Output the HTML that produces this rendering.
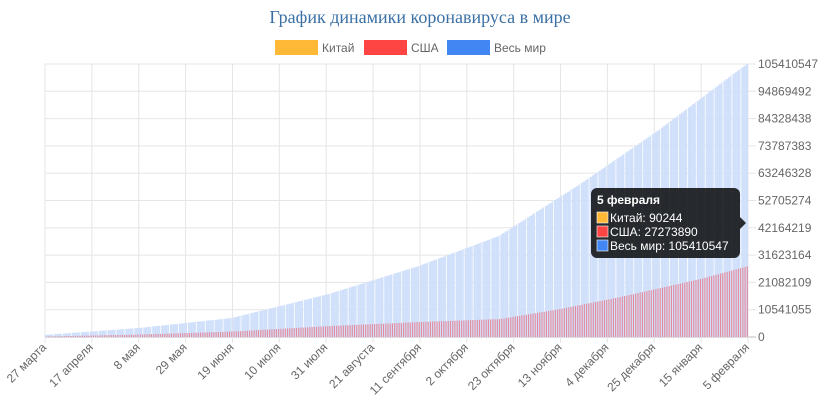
<!DOCTYPE html>
<html><head><meta charset="utf-8"><style>
body{margin:0;background:#fff;width:837px;height:413px;overflow:hidden}
svg{display:block;font-family:"Liberation Sans",sans-serif}
</style></head><body>
<svg id="s" width="837" height="413" xmlns="http://www.w3.org/2000/svg">
<text x="420" y="23" text-anchor="middle" font-family="Liberation Serif,serif" font-size="18" fill="#3a70a5">График динамики коронавируса в мире</text>
<rect x="275.5" y="40.5" width="42" height="14" fill="#ffb936" stroke="#ffb936"/>
<text x="322" y="52" font-size="12" fill="#666">Китай</text>
<rect x="364.5" y="40.5" width="42" height="14" fill="#ff4444" stroke="#ff4444"/>
<text x="411" y="52" font-size="12" fill="#666">США</text>
<rect x="447.5" y="40.5" width="42" height="14" fill="#4286f4" stroke="#4286f4"/>
<text x="494" y="52" font-size="12" fill="#666">Весь мир</text>
<g id="grid"></g><g id="bars"></g><g id="lab"></g>
<g>
<path d="M597,188 h137 a6,6 0 0 1 6,6 v23 l6,6 l-6,6 v23 a6,6 0 0 1 -6,6 h-137 a6,6 0 0 1 -6,-6 v-58 a6,6 0 0 1 6,-6z" fill="rgba(0,0,0,0.82)"/>
<text x="597" y="204" font-size="12" font-weight="bold" fill="#fff">5 февраля</text>
<rect x="597" y="212" width="11" height="11" fill="#ffb936" stroke="#fff" stroke-width="0.6"/>
<text x="610" y="222" font-size="12" fill="#fff">Китай: 90244</text>
<rect x="597" y="226" width="11" height="11" fill="#ff4444" stroke="#fff" stroke-width="0.6"/>
<text x="610" y="236" font-size="12" fill="#fff">США: 27273890</text>
<rect x="597" y="240" width="11" height="11" fill="#4286f4" stroke="#fff" stroke-width="0.6"/>
<text x="610" y="250" font-size="12" fill="#fff">Весь мир: 105410547</text>
</g>
</svg>
<script>
var ns="http://www.w3.org/2000/svg",L=45,R=748,T=64,B=337;
function el(p,t,a,txt){var e=document.createElementNS(ns,t);for(var k in a)e.setAttribute(k,a[k]);if(txt)e.textContent=txt;document.getElementById(p).appendChild(e);return e;}
var ticks=["0","10541055","21082109","31623164","42164219","52705274","63246328","73787383","84328438","94869492","105410547"];
for(var i=0;i<=10;i++){var y=B-(B-T)*i/10;el("grid","line",{x1:L,x2:R+8,y1:y,y2:y,stroke:i==0?"#bbb":"#e5e5e5"});el("lab","text",{x:758,y:y+4,"font-size":12,fill:"#666"},ticks[i]);}
var xl=["27 марта","17 апреля","8 мая","29 мая","19 июня","10 июля","31 июля","21 августа","11 сентября","2 октября","23 октября","13 ноября","4 декабря","25 декабря","15 января","5 февраля"];
for(var i=0;i<16;i++){var x=L+(R-L)*i/15;el("grid","line",{x1:x,x2:x,y1:T,y2:B+6,stroke:"#e5e5e5"});el("lab","text",{x:x+2,y:348,"font-size":12,fill:"#666","text-anchor":"end",transform:"rotate(-45 "+(x+2)+" 348)"},xl[i]);}
function interp(pts,x){for(var i=1;i<pts.length;i++){if(x<=pts[i][0]){var a=pts[i-1],b=pts[i];return a[1]+(b[1]-a[1])*(x-a[0])/(b[0]-a[0]);}}return pts[pts.length-1][1];}
var W=[[45,335],[140,328],[233,318],[330,294],[420,266],[500,236],[580,185],[660,130],[700,100],[748,64]];
var U=[[45,336.5],[140,334.5],[233,331.5],[330,326],[420,322],[500,319],[560,309],[620,297],[700,279],[748,266]];
var d=(R-L)/315,k=0;
for(var x=L;x<R-0.5;x+=d,k++){var yw=interp(W,x+d);
el("bars","rect",{x:x,y:yw,width:(k%4==3)?d-0.8:d+0.05,height:B-yw,fill:"#d0e0fb"});}
for(var x=L+1;x<R;x+=d){var yu=interp(U,x);
el("bars","rect",{x:x,y:yu,width:1.1,height:B-yu,fill:"#e48a9c"});}
</script>
</body></html>
